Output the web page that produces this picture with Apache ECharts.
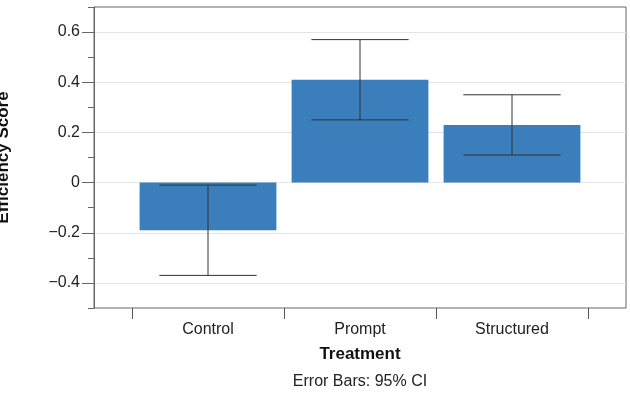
<!DOCTYPE html>
<html>
<head>
<meta charset="utf-8">
<script src="https://cdn.jsdelivr.net/npm/echarts@6/dist/echarts.min.js"></script>
<style>
  html, body { margin: 0; padding: 0; background: #fff; }
  #chart { width: 630px; height: 402px; }
</style>
</head>
<body>
<div id="chart"></div>
<script>
const categories = ["Control", "Prompt", "Structured"]
const meanScore = [-0.19, 0.41, 0.23]
const ciLow = [-0.37, 0.25, 0.11]
const ciHigh = [-0.01, 0.57, 0.35]
const majorTicks = [-0.4, -0.2, 0, 0.2, 0.4, 0.6]

const font = "'Liberation Sans', Arial, Helvetica, sans-serif"
const minus = v => String(Math.round(v * 10) / 10).replace("-", "\u2212")

let chart = echarts.init(document.getElementById("chart"))

let option = {
    animation: false,
    textStyle: {fontFamily: font},
    grid: [
        // frame of the plot
        {left: 94, right: 4, top: 7, bottom: 94, show: true, borderColor: "#666", borderWidth: 1,
         outerBoundsMode: "none", containLabel: false},
        // bars live inside, inset by a quarter band each side
        {left: 132, right: 42, top: 7, bottom: 94, outerBoundsMode: "none", containLabel: false}
    ],
    xAxis: [
        {
            gridIndex: 0, type: "value", min: 0, max: 1,
            name: "Error Bars: 95% CI", nameLocation: "middle", nameGap: 66,
            nameTextStyle: {fontSize: 16, color: "#222", fontFamily: font},
            axisLine: {show: false, onZero: false}, axisTick: {show: false},
            axisLabel: {show: false}, splitLine: {show: false}
        },
        {
            gridIndex: 1, type: "category", data: categories, boundaryGap: true,
            name: "Treatment", nameLocation: "middle", nameGap: 38,
            nameTextStyle: {fontSize: 17, fontWeight: "bold", color: "#111", fontFamily: font},
            axisLine: {show: false, onZero: false},
            axisTick: {show: true, length: 11, lineStyle: {color: "#555"}},
            axisLabel: {fontSize: 16, color: "#222", margin: 14, fontFamily: font},
            splitLine: {show: false}
        }
    ],
    yAxis: [
        {
            gridIndex: 0, type: "value", position: "left", min: -0.5, max: 0.7, interval: 0.1,
            name: "Efficiency Score", nameLocation: "middle", nameGap: 82,
            nameTextStyle: {fontSize: 17, fontWeight: "bold", color: "#111", fontFamily: font},
            axisLine: {show: true, lineStyle: {color: "#666"}},
            axisTick: {show: true, length: 6, lineStyle: {color: "#666"}},
            axisLabel: {show: false},
            splitLine: {show: true, lineStyle: {color: ["transparent", "#e4e4e4"], width: 1}}
        },
        {
            gridIndex: 0, type: "value", position: "left", min: -0.5, max: 0.7,
            axisLine: {show: false},
            axisTick: {show: true, length: 12, customValues: majorTicks, lineStyle: {color: "#666"}},
            axisLabel: {show: true, customValues: majorTicks, fontSize: 16, color: "#222",
                        margin: 14, fontFamily: font, formatter: v => minus(v)},
            splitLine: {show: false}
        },
        {
            gridIndex: 1, type: "value", min: -0.5, max: 0.7, show: false
        }
    ],
    series: [
        {
            name: "Efficiency",
            type: "bar",
            xAxisIndex: 1,
            yAxisIndex: 2,
            barWidth: "90%",
            itemStyle: {color: "#3a7ebb"},
            data: meanScore
        },
        {
            name: "95% CI",
            type: "custom",
            xAxisIndex: 1,
            yAxisIndex: 2,
            z: 5,
            data: categories.map((c, i) => [i, ciLow[i], ciHigh[i]]),
            renderItem: (params, api) => {
                const lo = api.coord([api.value(0), api.value(1)])
                const hi = api.coord([api.value(0), api.value(2)])
                const half = api.size([1, 0])[0] * 0.32
                const style = {stroke: "#333", lineWidth: 1}
                return {
                    type: "group",
                    children: [
                        {type: "line", shape: {x1: lo[0], y1: lo[1], x2: hi[0], y2: hi[1]}, style},
                        {type: "line", shape: {x1: lo[0] - half, y1: lo[1], x2: lo[0] + half, y2: lo[1]}, style},
                        {type: "line", shape: {x1: hi[0] - half, y1: hi[1], x2: hi[0] + half, y2: hi[1]}, style}
                    ]
                }
            }
        }
    ]
}

chart.setOption(option)
</script>
</body>
</html>
